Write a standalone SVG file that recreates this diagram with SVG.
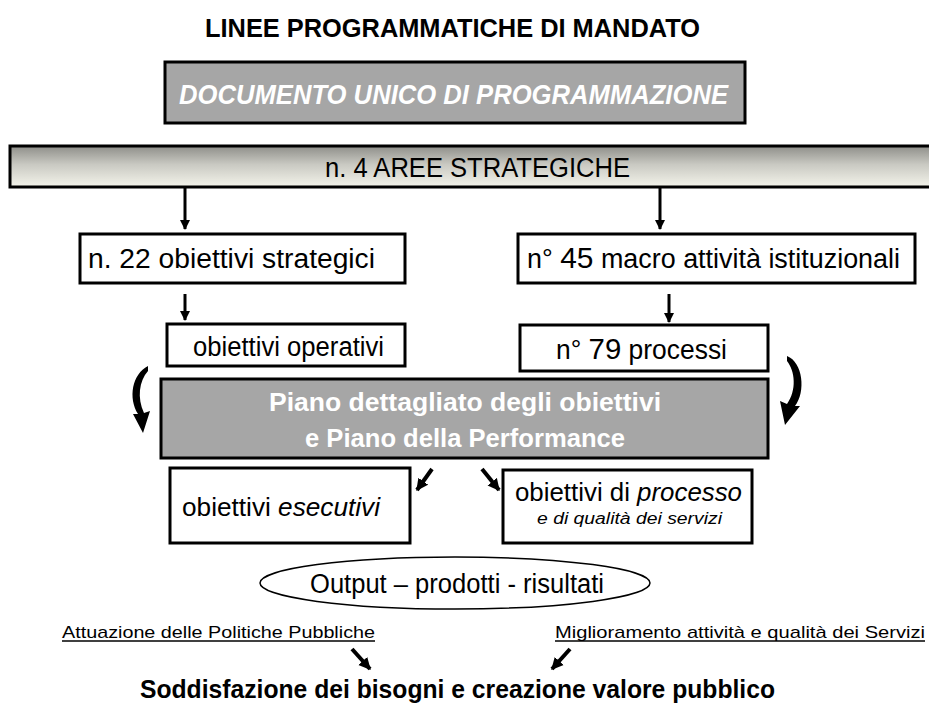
<svg xmlns="http://www.w3.org/2000/svg" width="929" height="707" viewBox="0 0 929 707">
<defs>
<linearGradient id="barGrad" x1="0" y1="0" x2="0" y2="1">
<stop offset="0" stop-color="#8e8e89"/>
<stop offset="0.45" stop-color="#c9c9c2"/>
<stop offset="1" stop-color="#f4f4eb"/>
</linearGradient>
<marker id="ah" viewBox="0 0 10 10" refX="9" refY="5" markerWidth="10" markerHeight="10" markerUnits="userSpaceOnUse" orient="auto">
<path d="M0,0 L10,5 L0,10 Z" fill="#000"/>
</marker>
<marker id="ah2" viewBox="0 0 10 10" refX="9" refY="5" markerWidth="12" markerHeight="13" markerUnits="userSpaceOnUse" orient="auto">
<path d="M0,0 L10,5 L0,10 Z" fill="#000"/>
</marker>
</defs>
<style>
.t{font-family:"Liberation Sans",Arial,sans-serif;fill:#000}
.b{font-weight:bold}
.w{fill:#fff}
.box{fill:#fff;stroke:#000;stroke-width:3}
.gray{fill:#a6a6a6;stroke:#000;stroke-width:3}
.arr{stroke:#000;stroke-width:3;fill:none;marker-end:url(#ah)}
.arr2{stroke:#000;stroke-width:4;fill:none;marker-end:url(#ah2)}
.ul{stroke:#000;stroke-width:1.4}
</style>

<g id="title">
<text class="t b" x="205" y="37" font-size="25" textLength="495" lengthAdjust="spacingAndGlyphs">LINEE PROGRAMMATICHE DI MANDATO</text>
</g>

<g id="dup">
<rect class="gray" x="165" y="62" width="580" height="61"/>
<text class="t b w" x="179" y="104" font-size="28" font-style="italic" textLength="549" lengthAdjust="spacingAndGlyphs">DOCUMENTO UNICO DI PROGRAMMAZIONE</text>
</g>

<g id="aree">
<rect x="10" y="146" width="925" height="41" fill="url(#barGrad)" stroke="#000" stroke-width="3"/>
<text class="t" x="325" y="177" font-size="27" textLength="305" lengthAdjust="spacingAndGlyphs">n. 4 AREE STRATEGICHE</text>
</g>

<g id="strategici">
<rect class="box" x="80" y="234" width="325" height="49"/>
<text class="t" x="88" y="268" font-size="27" textLength="287" lengthAdjust="spacingAndGlyphs">n. 22 obiettivi strategici</text>
</g>

<g id="macro">
<rect class="box" x="518" y="234" width="397" height="49"/>
<text class="t" x="527" y="268" font-size="27" textLength="373" lengthAdjust="spacingAndGlyphs">n° <tspan font-size="30">45</tspan> macro attività istituzionali</text>
</g>

<g id="operativi">
<rect class="box" x="167" y="324" width="238" height="42"/>
<text class="t" x="193" y="356" font-size="27" textLength="191" lengthAdjust="spacingAndGlyphs">obiettivi operativi</text>
</g>

<g id="processi">
<rect class="box" x="520" y="325" width="248" height="46"/>
<text class="t" x="556" y="359" font-size="27" textLength="171" lengthAdjust="spacingAndGlyphs">n° <tspan font-size="30">79</tspan> processi</text>
</g>

<g id="piano">
<rect class="gray" x="161" y="379" width="607" height="79"/>
<text class="t b w" x="465" y="411" font-size="26" text-anchor="middle" textLength="392" lengthAdjust="spacingAndGlyphs">Piano dettagliato degli obiettivi</text>
<text class="t b w" x="465" y="447" font-size="26" text-anchor="middle" textLength="320" lengthAdjust="spacingAndGlyphs">e Piano della Performance</text>
</g>

<g id="esecutivi">
<rect class="box" x="170" y="468" width="240" height="75"/>
<text class="t" x="182" y="516" font-size="26" textLength="198" lengthAdjust="spacingAndGlyphs">obiettivi <tspan font-style="italic">esecutivi</tspan></text>
</g>

<g id="processo">
<rect class="box" x="503" y="470" width="249" height="73"/>
<text class="t" x="515" y="501" font-size="26" textLength="227" lengthAdjust="spacingAndGlyphs">obiettivi di <tspan font-style="italic">processo</tspan></text>
<text class="t" x="537" y="524" font-size="16" font-style="italic" textLength="185" lengthAdjust="spacingAndGlyphs">e di qualità dei servizi</text>
</g>

<g id="output">
<ellipse cx="455" cy="583" rx="195" ry="26" fill="#fff" stroke="#000" stroke-width="1.5"/>
<text class="t" x="310" y="593" font-size="27" textLength="294" lengthAdjust="spacingAndGlyphs">Output – prodotti - risultati</text>
</g>

<g id="attuazione">
<text class="t" x="62" y="638" font-size="17" textLength="313" lengthAdjust="spacingAndGlyphs">Attuazione delle Politiche Pubbliche</text>
<line class="ul" x1="62" y1="641" x2="375" y2="641"/>
</g>

<g id="miglioramento">
<text class="t" x="555" y="638" font-size="17" textLength="370" lengthAdjust="spacingAndGlyphs">Miglioramento attività e qualità  dei Servizi</text>
<line class="ul" x1="555" y1="641" x2="925" y2="641"/>
</g>

<g id="soddisfazione">
<text class="t b" x="140" y="698" font-size="25" textLength="635" lengthAdjust="spacingAndGlyphs">Soddisfazione dei bisogni e creazione valore pubblico</text>
</g>

<g id="connectors">
<line class="arr" x1="185" y1="188" x2="185" y2="229"/>
<line class="arr" x1="660" y1="188" x2="660" y2="229"/>
<line class="arr" x1="185" y1="294" x2="185" y2="320"/>
<line class="arr" x1="669" y1="294" x2="669" y2="322"/>
<line class="arr2" x1="432" y1="469" x2="417" y2="490"/>
<line class="arr2" x1="482" y1="469" x2="499" y2="490"/>
<line class="arr2" x1="352" y1="649" x2="370" y2="669"/>
<line class="arr2" x1="570" y1="649" x2="552" y2="669"/>
<path d="M148,366 C132,374 128,398 138,414 L133,414 L143,433 L150,411 L144,413 C137,398 139,381 148,371 Z" fill="#000"/>
<path d="M787,356 C803,362 806,392 795,406 L800,406 L785,425 L780,401 L787,404 C797,390 795,371 787,361 Z" fill="#000"/>
</g>
</svg>
